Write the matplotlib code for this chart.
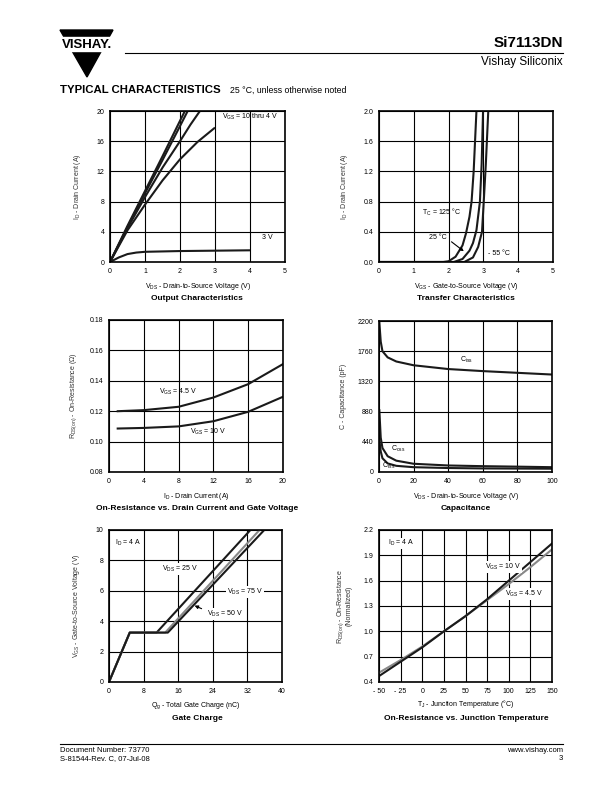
import matplotlib
matplotlib.use("Agg")
import matplotlib.pyplot as plt
from matplotlib.patches import Polygon, Rectangle
from matplotlib.lines import Line2D

plt.rcParams['font.family'] = ['Liberation Sans', 'DejaVu Sans']
plt.rcParams['mathtext.default'] = 'regular'

# ---- data ----
# output characteristics
out_vds_10 = [0, 0.5, 1.0, 1.5, 2.0, 2.14]
out_id_10 = [0, 4.8, 9.4, 14.0, 18.7, 20.0]
out_vds_6 = [0, 0.5, 1.0, 1.5, 2.0, 2.22]
out_id_6 = [0, 4.6, 9.1, 13.5, 18.0, 20.0]
out_vds_5 = [0, 0.5, 1.0, 1.5, 2.0, 2.3, 2.57]
out_id_5 = [0, 4.5, 8.6, 12.5, 16.0, 18.2, 20.0]
out_vds_4 = [0, 0.5, 1.0, 1.5, 2.0, 2.5, 3.0]
out_id_4 = [0, 4.2, 7.6, 10.8, 13.6, 15.9, 17.8]
out_vds_3 = [0, 0.25, 0.5, 0.75, 1.0, 1.5, 2.0, 3.0, 4.0]
out_id_3 = [0, 0.6, 1.05, 1.25, 1.35, 1.4, 1.45, 1.5, 1.55]

# transfer characteristics
tr_vgs_125 = [0, 1.85, 2.0, 2.2, 2.4, 2.5, 2.6, 2.66, 2.72, 2.76, 2.8]
tr_id_125 = [0, 0, 0.01, 0.07, 0.22, 0.38, 0.6, 0.8, 1.2, 1.6, 2.0]
tr_vgs_25 = [0, 2.15, 2.4, 2.6, 2.7, 2.8, 2.9, 2.95, 2.99]
tr_id_25 = [0, 0, 0.04, 0.15, 0.25, 0.42, 0.8, 1.3, 2.0]
tr_vgs_m55 = [0, 2.45, 2.7, 2.85, 2.96, 3.01, 3.07, 3.11, 3.14]
tr_id_m55 = [0, 0, 0.06, 0.2, 0.4, 0.8, 1.3, 1.7, 2.0]

# on-resistance vs drain current
rds_id = [1, 4, 8, 12, 16, 20]
rds_45 = [0.1200, 0.1207, 0.1229, 0.1290, 0.1378, 0.1510]
rds_10 = [0.1086, 0.1090, 0.1100, 0.1134, 0.1196, 0.1295]

# capacitance
cap_vds = [0.2, 1, 2, 5, 10, 20, 40, 60, 80, 100]
c_iss = [2180, 1900, 1760, 1670, 1610, 1555, 1500, 1470, 1445, 1420]
c_oss = [900, 500, 350, 230, 165, 120, 95, 85, 78, 70]
c_rss = [470, 300, 200, 125, 90, 70, 58, 52, 50, 48]

# gate charge
qg_25 = [0, 4.8, 11.0, 32.7]
vg_25 = [0, 3.25, 3.25, 10]
qg_50 = [0, 4.8, 13.0, 34.8]
vg_50 = [0, 3.25, 3.25, 10]
qg_75 = [0, 4.8, 13.6, 35.9]
vg_75 = [0, 3.25, 3.25, 10]

# on-resistance vs junction temperature
tj = [-50, -25, 0, 25, 50, 75, 100, 125, 150]
rn_10 = [0.47, 0.64, 0.81, 1.00, 1.18, 1.38, 1.60, 1.82, 2.04]
rn_45 = [0.51, 0.66, 0.82, 1.00, 1.18, 1.37, 1.56, 1.76, 1.97]

W, H = 612, 792
fig = plt.figure(figsize=(6.12, 7.92), dpi=100)


def px_axes(left, right, top, bottom):
    return fig.add_axes([left / W, 1 - bottom / H, (right - left) / W, (bottom - top) / H])


def style(ax, xlim, ylim, xticks, yticks, xfmt, yfmt):
    ax.set_xlim(xlim)
    ax.set_ylim(ylim)
    ax.set_xticks(xticks)
    ax.set_yticks(yticks)
    ax.set_xticklabels([xfmt.format(t) for t in xticks])
    ax.set_yticklabels([yfmt.format(t) for t in yticks])
    ax.grid(True, color='black', linewidth=0.8)
    ax.set_axisbelow(True)
    ax.tick_params(length=0, labelsize=5, pad=4)
    for s in ax.spines.values():
        s.set_linewidth(1.2)


def fig_text(x, y, s, **kw):
    fig.text(x / W, 1 - y / H, s, **kw)


def xlab(ax, s, y):
    # x label placed at a fixed page height, centred under the axes
    bb = ax.get_position()
    fig.text(bb.x0 + bb.width / 2, 1 - y / H, s, fontsize=5, ha='center', va='center')


lw = 1.5

# ---- 1. output characteristics ----
ax1 = px_axes(110, 285, 111, 262)
style(ax1, (0, 5), (0, 20), range(0, 6), range(0, 21, 4), '{}', '{}')
for x, y in [(out_vds_10, out_id_10), (out_vds_6, out_id_6), (out_vds_5, out_id_5),
             (out_vds_4, out_id_4), (out_vds_3, out_id_3)]:
    ax1.plot(x, y, color='#1a1a1a', lw=lw, solid_capstyle='butt')
ax1.text(3.2, 19.0, 'V$_{GS}$ = 10 thru 4 V', fontsize=5)
ax1.text(4.35, 3.0, '3 V', fontsize=5)
xlab(ax1, 'V$_{DS}$ - Drain-to-Source Voltage (V)', 286)
ax1.set_ylabel('I$_D$ - Drain Current (A)', fontsize=5, color='#333333', labelpad=10)

# ---- 2. transfer characteristics ----
ax2 = px_axes(379, 553, 111, 262)
style(ax2, (0, 5), (0, 2.0), range(0, 6), [0, 0.4, 0.8, 1.2, 1.6, 2.0], '{}', '{:.1f}')
for x, y in [(tr_vgs_125, tr_id_125), (tr_vgs_25, tr_id_25), (tr_vgs_m55, tr_id_m55)]:
    ax2.plot(x, y, color='#1a1a1a', lw=lw)
ax2.text(1.25, 0.62, 'T$_C$ = 125 °C', fontsize=5)
ax2.text(1.45, 0.31, '25 °C', fontsize=5)
ax2.annotate('', xy=(2.5, 0.12), xytext=(2.02, 0.29),
             arrowprops=dict(arrowstyle='-|>', color='black', lw=0.8, mutation_scale=5))
ax2.text(3.12, 0.09, '- 55 °C', fontsize=5)
xlab(ax2, 'V$_{GS}$ - Gate-to-Source Voltage (V)', 286)
ax2.set_ylabel('I$_D$ - Drain Current (A)', fontsize=5, color='#333333', labelpad=10)

# ---- 3. on-resistance vs drain current ----
ax3 = px_axes(109, 283, 320, 472)
style(ax3, (0, 20), (0.08, 0.18), range(0, 21, 4), [0.08, 0.10, 0.12, 0.14, 0.16, 0.18],
      '{}', '{:.2f}')
ax3.plot(rds_id, rds_45, color='#1a1a1a', lw=lw)
ax3.plot(rds_id, rds_10, color='#1a1a1a', lw=lw)
ax3.text(5.8, 0.1315, 'V$_{GS}$ = 4.5 V', fontsize=5)
ax3.text(9.3, 0.1050, 'V$_{GS}$ = 10 V', fontsize=5)
xlab(ax3, 'I$_D$ - Drain Current (A)', 496)
ax3.set_ylabel('R$_{DS(on)}$ - On-Resistance ($\\Omega$)', fontsize=5, color='#333333', labelpad=8)

# ---- 4. capacitance ----
ax4 = px_axes(379, 552, 321, 472)
style(ax4, (0, 100), (0, 2200), range(0, 101, 20), range(0, 2201, 440), '{}', '{}')
for y in (c_iss, c_oss, c_rss):
    ax4.plot(cap_vds, y, color='#1a1a1a', lw=lw)
ax4.text(47, 1600, 'C$_{iss}$', fontsize=5)
ax4.text(7, 310, 'C$_{oss}$', fontsize=5)
ax4.text(1.5, 60, 'C$_{rss}$', fontsize=5)
xlab(ax4, 'V$_{DS}$ - Drain-to-Source Voltage (V)', 496)
ax4.set_ylabel('C - Capacitance (pF)', fontsize=5, color='#333333', labelpad=8)

# ---- 5. gate charge ----
ax5 = px_axes(109, 282, 530, 682)
style(ax5, (0, 40), (0, 10), range(0, 41, 8), range(0, 11, 2), '{}', '{}')
ax5.plot(qg_25, vg_25, color='#1a1a1a', lw=lw)
ax5.plot(qg_50, vg_50, color='#888888', lw=lw)
ax5.plot(qg_75, vg_75, color='#1a1a1a', lw=lw)
ax5.text(1.5, 9.0, 'I$_D$ = 4 A', fontsize=5, bbox=dict(fc='white', ec='none', pad=0.5))
ax5.text(12.2, 7.3, 'V$_{DS}$ = 25 V', fontsize=5, bbox=dict(fc='white', ec='none', pad=0.5))
ax5.text(27.3, 5.8, 'V$_{DS}$ = 75 V', fontsize=5, bbox=dict(fc='white', ec='none', pad=0.5))
ax5.text(22.6, 4.35, 'V$_{DS}$ = 50 V', fontsize=5, bbox=dict(fc='white', ec='none', pad=0.5))
ax5.annotate('', xy=(19.2, 5.1), xytext=(22.0, 4.75),
             arrowprops=dict(arrowstyle='-|>', color='black', lw=0.8, mutation_scale=5))
xlab(ax5, 'Q$_g$ - Total Gate Charge (nC)', 706)
ax5.set_ylabel('V$_{GS}$ - Gate-to-Source Voltage (V)', fontsize=5, color='#333333', labelpad=10)

# ---- 6. on-resistance vs junction temperature ----
ax6 = px_axes(379, 552, 530, 682)
style(ax6, (-50, 150), (0.4, 2.2), range(-50, 151, 25), [0.4, 0.7, 1.0, 1.3, 1.6, 1.9, 2.2],
      '{}', '{:.1f}')
ax6.set_xticklabels(['- 50', '- 25', '0', '25', '50', '75', '100', '125', '150'])
ax6.plot(tj, rn_45, color='#888888', lw=lw)
ax6.plot(tj, rn_10, color='#1a1a1a', lw=lw)
ax6.text(-40, 2.02, 'I$_D$ = 4 A', fontsize=5, bbox=dict(fc='white', ec='none', pad=0.5))
ax6.text(72, 1.74, 'V$_{GS}$ = 10 V', fontsize=5, bbox=dict(fc='white', ec='none', pad=0.5))
ax6.text(96, 1.42, 'V$_{GS}$ = 4.5 V', fontsize=5, bbox=dict(fc='white', ec='none', pad=0.5))
xlab(ax6, 'T$_J$ - Junction Temperature (°C)', 704)
ax6.set_ylabel('R$_{DS(on)}$ - On-Resistance\n(Normalized)', fontsize=5, color='#333333',
               labelpad=8, linespacing=0.9)

# chart titles
for cx, cy, s in [(197, 298, 'Output Characteristics'), (466, 298, 'Transfer Characteristics'),
                  (197, 508, 'On-Resistance vs. Drain Current and Gate Voltage'),
                  (466, 508, 'Capacitance'), (197, 718, 'Gate Charge'),
                  (466, 718, 'On-Resistance vs. Junction Temperature')]:
    fig_text(cx, cy, s, fontsize=6, fontweight='bold', ha='center', va='center')

# ---- header ----
fig.patches.append(Polygon([(60 / W, 1 - 30 / H), (113 / W, 1 - 30 / H), (87 / W, 1 - 77 / H)],
                           closed=True, transform=fig.transFigure, color='black'))
fig.patches.append(Rectangle((55 / W, 1 - 51 / H), 65 / W, 13.5 / H,
                             transform=fig.transFigure, color='white'))
fig_text(87, 44.5, 'VISHAY.', fontsize=9.5, fontweight='bold', ha='center', va='center')
fig.lines.append(Line2D([125 / W, 563 / W], [1 - 53 / H, 1 - 53 / H],
                        transform=fig.transFigure, color='black', lw=0.8))
fig_text(563, 43, 'Si7113DN', fontsize=11, fontweight='bold', ha='right', va='center')
fig_text(563, 62, 'Vishay Siliconix', fontsize=8.5, ha='right', va='center')
fig_text(60, 90, 'TYPICAL CHARACTERISTICS', fontsize=8.2, fontweight='heavy', ha='left', va='center')
fig_text(230, 90, '25 °C, unless otherwise noted', fontsize=6.3, ha='left', va='center')

# ---- footer ----
fig.lines.append(Line2D([60 / W, 563 / W], [1 - 744 / H, 1 - 744 / H],
                        transform=fig.transFigure, color='black', lw=0.8))
fig_text(60, 750.5, 'Document Number: 73770', fontsize=5.5, ha='left', va='center')
fig_text(60, 759, 'S-81544-Rev. C, 07-Jul-08', fontsize=5.5, ha='left', va='center')
fig_text(563, 750.5, 'www.vishay.com', fontsize=5.5, ha='right', va='center')
fig_text(563, 759, '3', fontsize=5.5, ha='right', va='center')

fig.savefig('out.png', dpi=100)
